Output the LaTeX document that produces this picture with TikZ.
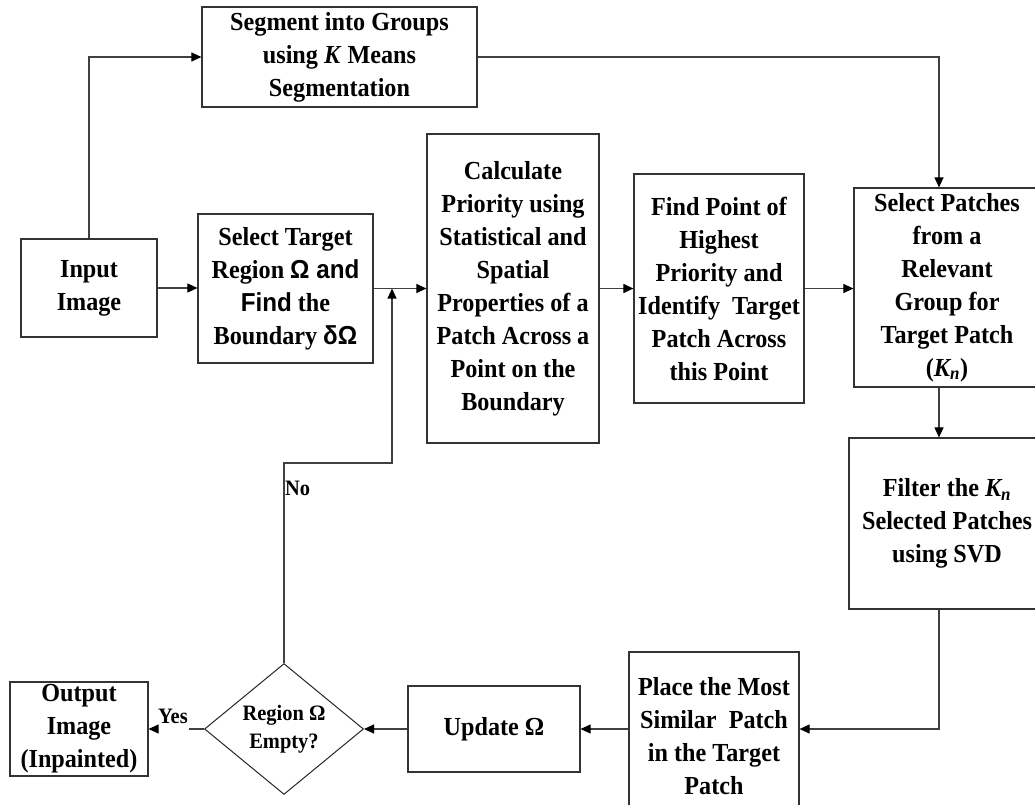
\documentclass[tikz,border=0pt]{standalone}
\usepackage{fontspec}
\setmainfont{Liberation Serif}[FakeStretch=0.93]
\newfontfamily\sansbf{Liberation Sans}[FakeStretch=0.93]
\usetikzlibrary{arrows.meta,positioning,shapes.geometric,calc}
\tikzset{
	block/.style={rectangle,draw=black!80,line width=1.2pt,align=center,inner sep=2pt,font=\fontsize{26}{33}\selectfont\bfseries},
	decision/.style={diamond,draw=black!85,line width=1pt,align=center,inner sep=0pt,minimum width=159pt,minimum height=126pt,font=\fontsize{22}{28}\selectfont\bfseries},
	plainedge/.style={color=black!75,line width=1.1pt},
	diredge/.style={->,>={Triangle[width=9pt,length=10pt,color=black]},color=black!75,line width=1.1pt},
	edgelabel/.style={font=\fontsize{22}{24}\selectfont\bfseries,inner sep=1pt}
}
\begin{document}
\begin{tikzpicture}[x=1pt,y=-1pt]
	\useasboundingbox (0,0) rectangle (1035,805);
	%%%% top row
	\node[block,minimum width=275pt,minimum height=100pt] (seg) at (339.5,57) {Segment into Groups\\using \textit{K} Means\\Segmentation};
	\node[block,minimum width=136pt,minimum height=98pt] (input) at (89,288) {Input\\Image};
	\node[block,minimum width=175pt,minimum height=149pt] (target) at (285.5,288.5) {Select Target\\Region {\sansbf Ω and}\\{\sansbf Find} the\\Boundary {\sansbf δΩ}};
	\node[block,minimum width=172pt,minimum height=309pt] (calc) at (513,288.5) {Calculate\\Priority using\\Statistical and\\Spatial\\Properties of a\\Patch Across a\\Point on the\\Boundary};
	\node[block,minimum width=170pt,minimum height=229pt] (find) at (719,288.5) {Find Point of\\Highest\\Priority and\\Identify~ Target\\Patch Across\\this Point};
	\node[block,minimum width=186pt,minimum height=199pt] (selp) at (947,287.5) {Select Patches\\from a\\Relevant\\Group for\\Target Patch\\(\textit{K\textsubscript{n}})};
	
	%%%% right column and bottom row
	\node[block,minimum width=196pt,minimum height=171pt] (filter) at (947,523.5) {Filter the \textit{K\textsubscript{n}}\\Selected Patches\\using SVD};
	\node[block,minimum width=170pt,minimum height=168pt] (place) at (714,736) {Place the Most\\Similar~ Patch\\in the Target\\Patch};
	\node[block,minimum width=172pt,minimum height=86pt] (update) at (494,729) {Update Ω};
	\node[decision] (dec) at (284,729) {Region Ω\\Empty?};
	\node[block,inner sep=0pt,minimum width=138pt,minimum height=94pt] (output) at (79,729) {Output\\Image\\(Inpainted)};
	
	\coordinate (col) at (939,0);
	\coordinate (row) at (0,729);
	\coordinate (bend) at (392,463);
	
	%%%% forward flow
	\draw[diredge] (input.north) |- (seg.west);
	\draw[diredge] (seg.east) -| (col |- selp.north);
	\draw[diredge] (input.east) -- (input.east -| target.west);
	\draw[diredge] (target.east) -- (target.east -| calc.west);
	\draw[diredge] (calc.east) -- (calc.east -| find.west);
	\draw[diredge] (find.east) -- (find.east -| selp.west);
	\draw[diredge] (col |- selp.south) -- (col |- filter.north);
	\draw[diredge] (col |- filter.south) |- (row -| place.east);
	\draw[diredge] (row -| place.west) -- (update.east);
	\draw[diredge] (update.west) -- (dec.east);
	
	%%%% decision
	\node[edgelabel] (yes) at (173,716) {Yes};
	\draw[plainedge] (dec.west) -- (dec.west -| yes.east);
	\draw[diredge] (dec.west -| yes.west) -- (output.east);
	\draw[diredge] (dec.north) |- (bend) -- (bend |- target.east);
	\node[edgelabel,anchor=west] (no) at (284,488) {No};
\end{tikzpicture}
\end{document}
